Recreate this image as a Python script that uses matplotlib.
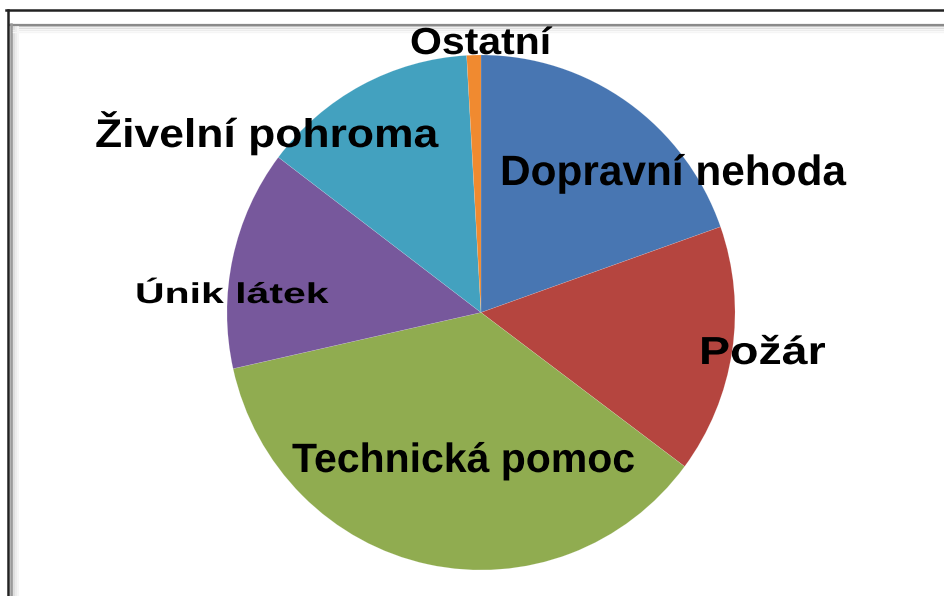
import matplotlib
matplotlib.use("Agg")
import matplotlib.pyplot as plt
from matplotlib.patheffects import AbstractPathEffect
from matplotlib.transforms import Affine2D
from matplotlib.lines import Line2D

# ---- data ----
categories = ["Dopravní nehoda", "Požár", "Technická pomoc", "Únik látek",
              "Živelní pohroma", "Ostatní"]
shares = [19.6, 15.6, 36.3, 13.8, 13.8, 0.9]
colors = ["#4876B2", "#B5453F", "#90AC50", "#77589C", "#43A1BF", "#F08A30"]

# ---- layout (pixels in a 945x596 canvas) ----
W, H = 945, 596
# label: left x, baseline y, font size (pt), vertical squash
label_layout = {
    "Ostatní":          (410, 54, 29.5, 0.92),
    "Dopravní nehoda":  (500, 185, 30.5, 1.0),
    "Živelní pohroma":  (95, 147, 32.0, 0.90),
    "Únik látek":       (135, 303, 29.5, 0.70),
    "Technická pomoc":  (292, 472, 29.5, 1.0),
    "Požár":            (699, 364, 33.5, 0.84),
}


class VStretch(AbstractPathEffect):
    """Squash text vertically about its baseline."""
    def __init__(self, sy):
        super().__init__()
        self.sy = sy

    def draw_path(self, renderer, gc, tpath, affine, rgbFace=None):
        y0 = affine.get_matrix()[1, 2]
        t = affine + Affine2D().translate(0, -y0).scale(1, self.sy).translate(0, y0)
        renderer.draw_path(gc, tpath, t, rgbFace)


fig = plt.figure(figsize=(W / 100, H / 100), dpi=100)
fig.patch.set_facecolor("white")

# pie axes: center ~ (481, 312), radii ~ 254 x 257
cx, cy, rx, ry = 481, 312.5, 254, 257.5
ax = fig.add_axes([(cx - rx) / W, 1 - (cy + ry) / H, 2 * rx / W, 2 * ry / H])
ax.pie(shares, colors=colors, startangle=90, counterclock=False,
       wedgeprops=dict(linewidth=0.3, edgecolor=(1, 1, 1, 0.25)))
ax.set_aspect("auto")
ax.set_xlim(-1, 1)
ax.set_ylim(-1, 1)
ax.axis("off")

# labels
for name in categories:
    x, y, fs, sy = label_layout[name]
    t = fig.text(x / W, 1 - y / H, name, ha="left", va="baseline",
                 fontsize=fs, fontweight="bold", color="black",
                 family=["Liberation Sans", "DejaVu Sans"])
    t.set_path_effects([VStretch(sy)])

# frame decoration
def hline(y, x0, x1, color, lw):
    fig.add_artist(Line2D([x0 / W, x1 / W], [1 - y / H, 1 - y / H],
                          color=color, lw=lw, transform=fig.transFigure))

def vline(x, y0, y1, color, lw):
    fig.add_artist(Line2D([x / W, x / W], [1 - y0 / H, 1 - y1 / H],
                          color=color, lw=lw, transform=fig.transFigure))

# soft inner shading
for i, c in enumerate(["#c8c8c8", "#dedede", "#ececec", "#f5f5f5"]):
    vline(12 + 2 * i, 25, H, c, 1.5)
    hline(26 + 2 * i, 12, W, c, 1.0)
hline(24.5, 10, W, "#8a8a8a", 1.6)
vline(10.5, 24, H, "#9a9a9a", 1.8)
hline(10, 6.5, W, "#222222", 1.8)
vline(8, 9.5, H, "#222222", 1.8)

fig.savefig("out.png", dpi=100, facecolor="white")
